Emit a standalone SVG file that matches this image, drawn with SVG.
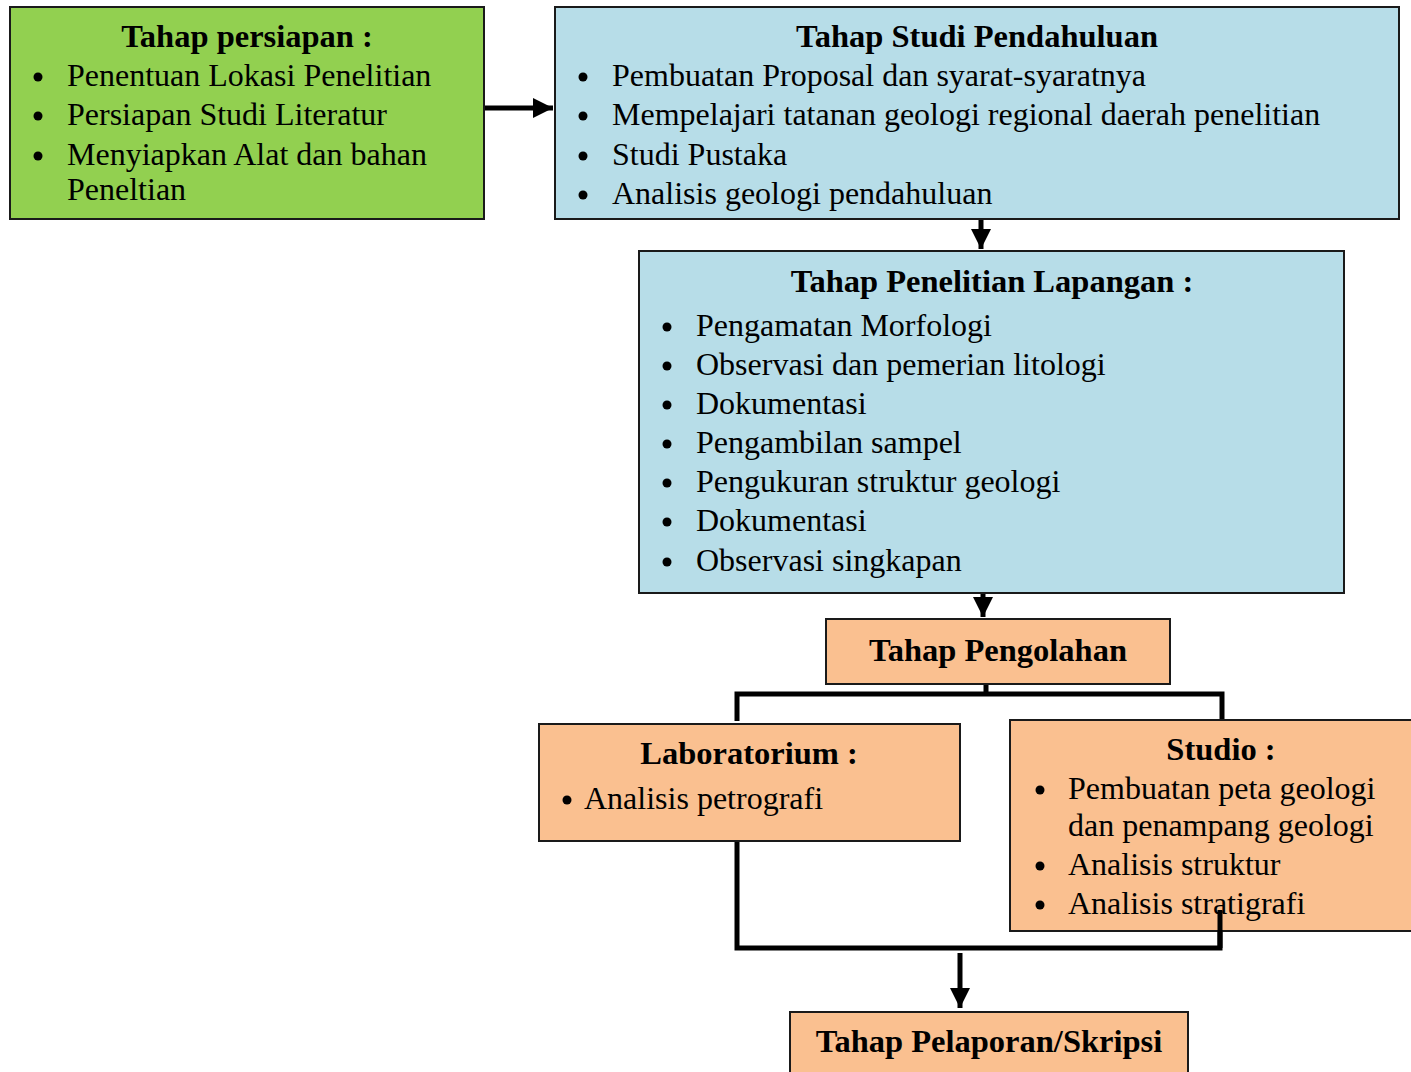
<svg xmlns="http://www.w3.org/2000/svg" width="1411" height="1072" viewBox="0 0 1411 1072">
<defs>
<style>
.box{stroke:#1a1a1a;stroke-width:2}
.g{fill:#92D050}
.b{fill:#B7DDE8}
.o{fill:#FAC090}
text{font-family:"Liberation Serif","Times New Roman",serif;font-size:32px;fill:#000}
.t{font-weight:bold;text-anchor:middle;font-size:32.5px}
.c{fill:none;stroke:#000;stroke-width:5}
.bl{fill:#000}
</style>
<marker id="ah" markerWidth="4" markerHeight="4" refX="4" refY="2" orient="auto" markerUnits="strokeWidth">
<path d="M0,0 L4,2 L0,4 Z" fill="#000"/>
</marker>
</defs>
<rect width="1411" height="1072" fill="#fff"/>

<g id="connectors">
<line class="c" x1="484" y1="108" x2="553" y2="108" marker-end="url(#ah)"/>
<line class="c" x1="981" y1="219" x2="981" y2="249" stroke-width="4" marker-end="url(#ah)"/>
<line class="c" x1="983" y1="593" x2="983" y2="617" stroke-width="4" marker-end="url(#ah)"/>
<path class="c" d="M986,684 V694 M737,721 V694 H1222 V720"/>
<path class="c" d="M737,841 V948 H1220 V910"/>
<line class="c" x1="960" y1="953" x2="960" y2="1008" stroke-width="4" marker-end="url(#ah)"/>
</g>

<g id="node-persiapan">
<rect class="box g" x="10" y="7" width="474" height="212"/>
<text class="t" x="247" y="47">Tahap persiapan :</text>
<circle class="bl" cx="38" cy="77" r="4.5"/>
<text x="67" y="86">Penentuan Lokasi Penelitian</text>
<circle class="bl" cx="38" cy="116" r="4.5"/>
<text x="67" y="125">Persiapan Studi Literatur</text>
<circle class="bl" cx="38" cy="156" r="4.5"/>
<text x="67" y="165">Menyiapkan Alat dan bahan</text>
<text x="67" y="200">Peneltian</text>
</g>

<g id="node-studi">
<rect class="box b" x="555" y="7" width="844" height="212"/>
<text class="t" x="977" y="47">Tahap Studi Pendahuluan</text>
<circle class="bl" cx="583" cy="77" r="4.5"/>
<text x="612" y="86">Pembuatan Proposal dan syarat-syaratnya</text>
<circle class="bl" cx="583" cy="116" r="4.5"/>
<text x="612" y="125">Mempelajari tatanan geologi regional daerah penelitian</text>
<circle class="bl" cx="583" cy="156" r="4.5"/>
<text x="612" y="165">Studi Pustaka</text>
<circle class="bl" cx="583" cy="195" r="4.5"/>
<text x="612" y="204">Analisis geologi pendahuluan</text>
</g>

<g id="node-lapangan">
<rect class="box b" x="639" y="251" width="705" height="342"/>
<text class="t" x="992" y="292">Tahap Penelitian Lapangan :</text>
<circle class="bl" cx="667" cy="327" r="4.5"/>
<text x="696" y="336">Pengamatan Morfologi</text>
<circle class="bl" cx="667" cy="366" r="4.5"/>
<text x="696" y="375">Observasi dan pemerian litologi</text>
<circle class="bl" cx="667" cy="405" r="4.5"/>
<text x="696" y="414">Dokumentasi</text>
<circle class="bl" cx="667" cy="444" r="4.5"/>
<text x="696" y="453">Pengambilan sampel</text>
<circle class="bl" cx="667" cy="483" r="4.5"/>
<text x="696" y="492">Pengukuran struktur geologi</text>
<circle class="bl" cx="667" cy="522" r="4.5"/>
<text x="696" y="531">Dokumentasi</text>
<circle class="bl" cx="667" cy="562" r="4.5"/>
<text x="696" y="571">Observasi singkapan</text>
</g>

<g id="node-pengolahan">
<rect class="box o" x="826" y="619" width="344" height="65"/>
<text class="t" x="998" y="661">Tahap Pengolahan</text>
</g>

<g id="node-lab">
<rect class="box o" x="539" y="724" width="421" height="117"/>
<text class="t" x="749" y="764">Laboratorium :</text>
<circle class="bl" cx="567" cy="800" r="4.5"/>
<text x="584" y="809">Analisis petrografi</text>
</g>

<g id="node-studio">
<rect class="box o" x="1010" y="720" width="410" height="211"/>
<text class="t" x="1221" y="760">Studio :</text>
<circle class="bl" cx="1040" cy="790" r="4.5"/>
<text x="1068" y="799">Pembuatan peta geologi</text>
<text x="1068" y="836">dan penampang geologi</text>
<circle class="bl" cx="1040" cy="866" r="4.5"/>
<text x="1068" y="875">Analisis struktur</text>
<circle class="bl" cx="1040" cy="905" r="4.5"/>
<text x="1068" y="914">Analisis stratigrafi</text>
</g>

<g id="connector-overlay">
<line class="c" x1="1220" y1="910" x2="1220" y2="948"/>
</g>

<g id="node-pelaporan">
<rect class="box o" x="790" y="1012" width="398" height="70"/>
<text class="t" x="989" y="1052">Tahap Pelaporan/Skripsi</text>
</g>
</svg>
